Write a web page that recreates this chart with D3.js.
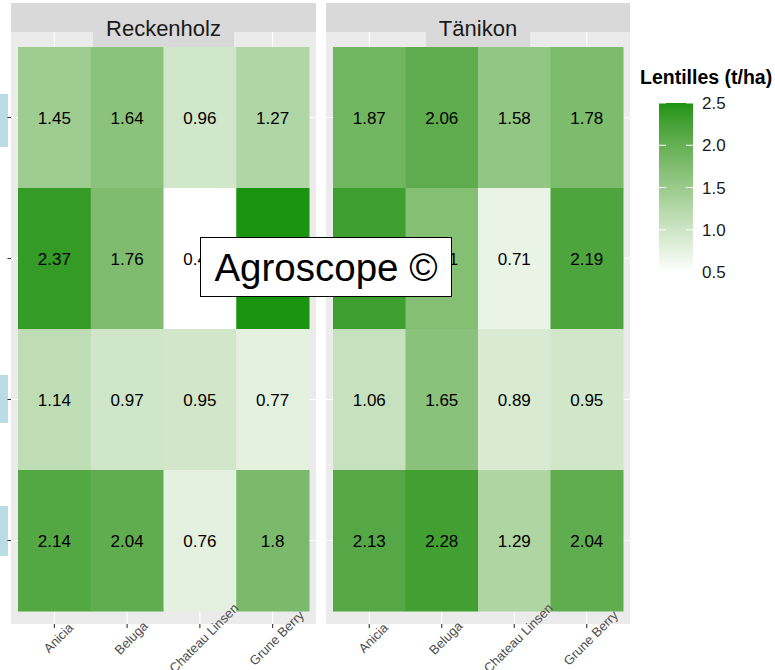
<!DOCTYPE html>
<html>
<head>
<meta charset="utf-8">
<script src="https://cdn.jsdelivr.net/npm/d3@7"></script>
<style>
  html, body { margin: 0; padding: 0; background: #ffffff; }
  svg { display: block; font-family: "Liberation Sans", Arial, Helvetica, sans-serif; }
</style>
</head>
<body>
<svg id="chart" width="775" height="670"></svg>
<script>
// ---------- DATA ----------
const varieties = ["Anicia", "Beluga", "Chateau Linsen", "Grune Berry"];
const sites = ["Reckenholz", "Tänikon"];
const rowKeys = ["row1", "row2", "row3", "row4"];          // y-axis labels are cut off in the reference
const rowsWithBox = [true, false, true, true];               // light-blue label boxes visible at left edge

const reckenholzRow1 = [1.45, 1.64, 0.96, 1.27];
const reckenholzRow2 = [2.37, 1.76, 0.45, 2.52];
const reckenholzRow3 = [1.14, 0.97, 0.95, 0.77];
const reckenholzRow4 = [2.14, 2.04, 0.76, 1.80];

const tanikonRow1 = [1.87, 2.06, 1.58, 1.78];
const tanikonRow2 = [2.31, 1.71, 0.71, 2.19];
const tanikonRow3 = [1.06, 1.65, 0.89, 0.95];
const tanikonRow4 = [2.13, 2.28, 1.29, 2.04];

const legendTicks = [0.5, 1.0, 1.5, 2.0, 2.5];
const legendTitle = "Lentilles (t/ha)";
const watermark = "Agroscope ©";

const siteValues = {
  "Reckenholz": [reckenholzRow1, reckenholzRow2, reckenholzRow3, reckenholzRow4],
  "Tänikon": [tanikonRow1, tanikonRow2, tanikonRow3, tanikonRow4]
};

// ---------- LAYOUT ----------
const svg = d3.select("#chart");
const panels = [
  { site: "Reckenholz", x0: 11, x1: 316, tx0: 18, tx1: 309 },
  { site: "Tänikon", x0: 326, x1: 630, tx0: 333, tx1: 623 }
];
const stripTop = 3, stripBottom = 32, panelBottom = 624;
const tileTop = 47, tileBottom = 611;

const color = d3.scaleLinear()
  .domain([0.5, 2.5])
  .range(["#ffffff", "#1b9410"])
  .interpolate(d3.interpolateLab)
  .clamp(true);

const y = d3.scaleBand().domain(rowKeys).range([tileTop, tileBottom]).padding(0);

// left light-blue label boxes (labels cut off by the image edge)
const boxExtents = [[94, 147], null, [375, 423], [506, 556]];
rowKeys.forEach((k, i) => {
  if (rowsWithBox[i] && boxExtents[i]) {
    svg.append("rect").attr("x", -20).attr("y", boxExtents[i][0])
      .attr("width", 28).attr("height", boxExtents[i][1] - boxExtents[i][0])
      .attr("fill", "#b9dde2");
  }
});

panels.forEach(p => {
  const g = svg.append("g");
  const x = d3.scaleBand().domain(varieties).range([p.tx0, p.tx1]).padding(0);

  // strip
  g.append("rect").attr("x", p.x0).attr("y", stripTop)
    .attr("width", p.x1 - p.x0).attr("height", stripBottom - stripTop).attr("fill", "#d9d9d9");
  // panel bg
  g.append("rect").attr("x", p.x0).attr("y", stripBottom)
    .attr("width", p.x1 - p.x0).attr("height", panelBottom - stripBottom).attr("fill", "#ebebeb");
  // grid lines
  varieties.forEach(v => {
    const cx = x(v) + x.bandwidth() / 2;
    g.append("line").attr("x1", cx).attr("x2", cx).attr("y1", stripBottom).attr("y2", panelBottom)
      .attr("stroke", "#ffffff").attr("stroke-width", 1.1);
  });
  rowKeys.forEach(k => {
    const cy = y(k) + y.bandwidth() / 2;
    g.append("line").attr("x1", p.x0).attr("x2", p.x1).attr("y1", cy).attr("y2", cy)
      .attr("stroke", "#ffffff").attr("stroke-width", 1.1);
  });

  // strip text with its box
  const st = g.append("text").attr("x", (p.x0 + p.x1) / 2).attr("y", 36)
    .attr("text-anchor", "middle").attr("font-size", 22).attr("fill", "#1a1a1a").text(p.site);
  const w = st.node().getComputedTextLength();
  g.insert("rect", "text").attr("x", (p.x0 + p.x1) / 2 - w / 2 - 13).attr("y", stripTop)
    .attr("width", w + 26).attr("height", tileTop - stripTop).attr("fill", "#d9d9d9");

  // tiles
  const vals = siteValues[p.site];
  rowKeys.forEach((k, ri) => {
    varieties.forEach((v, ci) => {
      const val = vals[ri][ci];
      g.append("rect").attr("x", x(v)).attr("y", y(k))
        .attr("width", x.bandwidth() + 0.5).attr("height", y.bandwidth() + 0.5)
        .attr("fill", color(val));
    });
  });
  rowKeys.forEach((k, ri) => {
    varieties.forEach((v, ci) => {
      const val = vals[ri][ci];
      g.append("text").attr("x", x(v) + x.bandwidth() / 2).attr("y", y(k) + y.bandwidth() / 2 + 6)
        .attr("text-anchor", "middle").attr("font-size", 17).attr("fill", "#000000")
        .text(String(val));
    });
  });

  // x ticks + labels
  varieties.forEach(v => {
    const cx = x(v) + x.bandwidth() / 2;
    g.append("line").attr("x1", cx).attr("x2", cx).attr("y1", panelBottom).attr("y2", panelBottom + 4)
      .attr("stroke", "#333333").attr("stroke-width", 1.1);
    g.append("text")
      .attr("transform", `translate(${cx + 4},${638}) rotate(-45)`)
      .attr("text-anchor", "middle").attr("dominant-baseline", "central")
      .attr("font-size", 13).attr("fill", "#4d4d4d").text(v);
  });
});

// y ticks (left panel only)
rowKeys.forEach(k => {
  const cy = y(k) + y.bandwidth() / 2;
  svg.append("line").attr("x1", 7.5).attr("x2", 11).attr("y1", cy).attr("y2", cy)
    .attr("stroke", "#333333").attr("stroke-width", 1.1);
});

// ---------- LEGEND ----------
const lg = svg.append("g");
const ly = d3.scaleLinear().domain([0.5, 2.5]).range([272, 103]);
const defs = svg.append("defs");
const grad = defs.append("linearGradient").attr("id", "lgGrad")
  .attr("x1", 0).attr("y1", 1).attr("x2", 0).attr("y2", 0);
d3.range(0, 1.0001, 0.05).forEach(t => {
  grad.append("stop").attr("offset", t).attr("stop-color", color(0.5 + 2 * t));
});
lg.append("text").attr("x", 640).attr("y", 84).attr("font-size", 19.5).attr("font-weight", "bold")
  .attr("fill", "#000000").text(legendTitle);
lg.append("rect").attr("x", 659).attr("y", ly(2.5)).attr("width", 34).attr("height", ly(0.5) - ly(2.5))
  .attr("fill", "url(#lgGrad)");
legendTicks.forEach(t => {
  lg.append("line").attr("x1", 659).attr("x2", 666).attr("y1", ly(t)).attr("y2", ly(t))
    .attr("stroke", "#ffffff").attr("stroke-width", 1);
  lg.append("line").attr("x1", 686).attr("x2", 693).attr("y1", ly(t)).attr("y2", ly(t))
    .attr("stroke", "#ffffff").attr("stroke-width", 1);
  lg.append("text").attr("x", 702).attr("y", ly(t) + 6).attr("font-size", 17).attr("fill", "#1a1a1a")
    .text(d3.format(".1f")(t));
});

// ---------- WATERMARK ----------
svg.append("rect").attr("x", 200.5).attr("y", 237.5).attr("width", 251).attr("height", 59)
  .attr("fill", "#ffffff").attr("stroke", "#000000").attr("stroke-width", 1);
svg.append("text").attr("x", 326).attr("y", 281).attr("text-anchor", "middle")
  .attr("font-size", 38.5).attr("fill", "#000000").text(watermark);
</script>
</body>
</html>
